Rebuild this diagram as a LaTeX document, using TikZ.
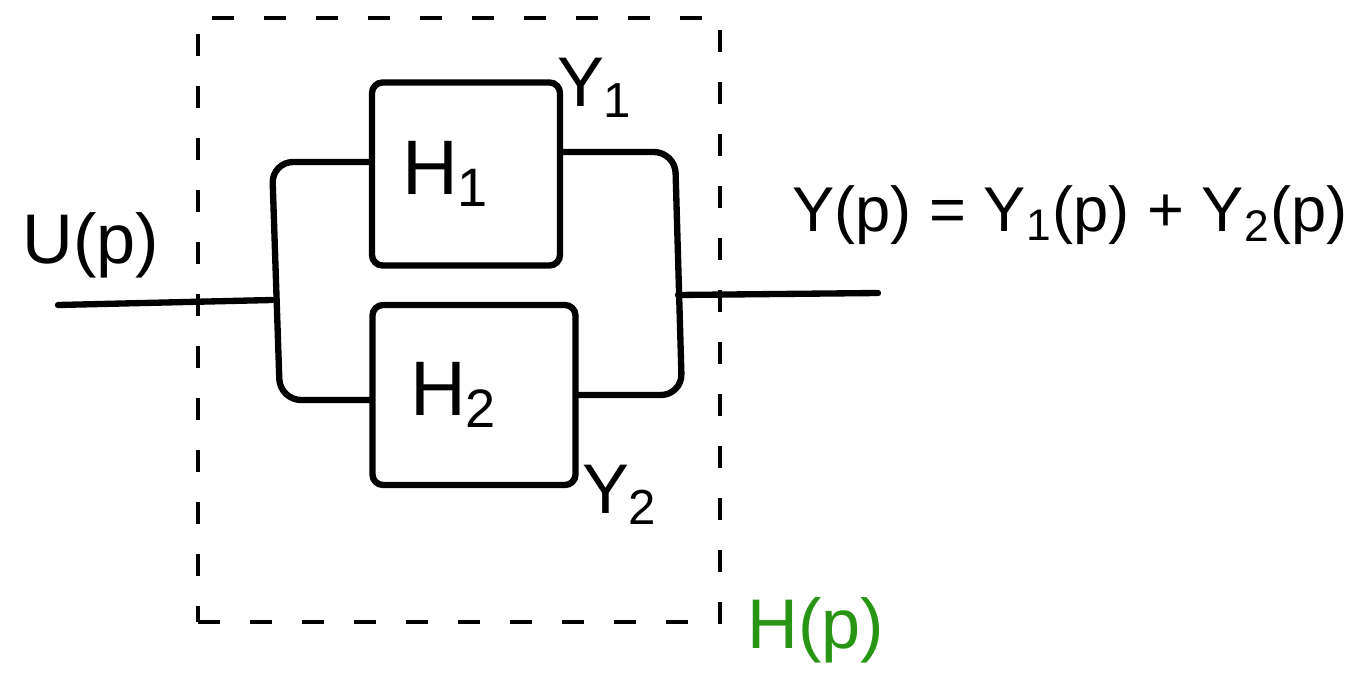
\documentclass[tikz,border=0pt]{standalone}
\usepackage{fontspec}
\setmainfont{Liberation Sans}
\usepackage{xcolor}
\usetikzlibrary{arrows.meta,positioning,calc,fit}
\definecolor{inkgreen}{RGB}{40,150,20}
\tikzset{
	wire/.style={line width=1.8pt, line cap=round, line join=round, rounded corners=6pt},
	blockbox/.style={draw, line width=1.8pt, rounded corners=3pt, align=center},
	hlabel/.style={font=\fontsize{22}{24}\selectfont},
	siglabel/.style={font=\fontsize{20}{22}\selectfont}
}
\begin{document}
\begin{tikzpicture}[
			framebox/.style={draw, line width=1.4pt, dash pattern=on 0.22cm off 0.3cm},
			eqlabel/.style={font=\fontsize{18}{20}\selectfont},
			]
			\useasboundingbox (0,0) rectangle (13.65,-6.87);
			
			%% -- Blocks
			\node[blockbox, minimum width=1.88cm, minimum height=1.83cm] (h1) at (4.66,-1.74) {};
			\node[hlabel] at ([xshift=-2mm] h1.center) {H\textsubscript{1}};
			\node[blockbox, minimum width=2.03cm, minimum height=1.8cm] (h2) at (4.74,-3.95) {};
			\node[hlabel] at ([xshift=-2mm] h2.center) {H\textsubscript{2}};
			
			%% -- Junction points
			\coordinate (uin) at (0.58,-3.05);
			\coordinate (ltop) at (2.72,-1.62);
			\coordinate (lmid) at (2.72,-3.0);
			\coordinate (lbot) at (2.8,-4.0);
			\coordinate (rtop) at (6.75,-1.52);
			\coordinate (rmid) at (6.78,-2.95);
			\coordinate (rbot) at (6.82,-3.95);
			\coordinate (yout) at (8.78,-2.93);
			
			%% -- Wires
			\draw[wire] (uin) -- (lmid);
			\draw[wire] (h1.west |- ltop) -- (ltop) -- (lbot) -- (h2.west |- lbot);
			\draw[wire] (h1.east |- rtop) -- (rtop) -- (rbot) -- (h2.east |- rbot);
			\draw[wire] (rmid) -- (yout);
			
			%% -- Dashed frame
			\node[framebox, minimum width=5.22cm, minimum height=6.04cm] (frame) at (4.59,-3.2) {};
			
			%% -- Labels
			\node[siglabel, anchor=west] (ulbl) at (0.1,-2.45) {U(p)};
			\node[siglabel] (y1lbl) at (5.95,-0.88) {Y\textsubscript{1}};
			\node[siglabel] (y2lbl) at (6.2,-4.95) {Y\textsubscript{2}};
			\node[eqlabel, anchor=west] (eq) at (7.8,-2.15) {Y(p) = Y\textsubscript{1}(p) + Y\textsubscript{2}(p)};
			\node[siglabel, text=inkgreen, anchor=west] (hlbl) at (7.35,-6.3) {H(p)};
			
		\end{tikzpicture}
\end{document}
